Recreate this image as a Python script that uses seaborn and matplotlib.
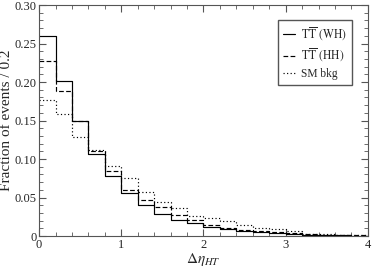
import matplotlib
matplotlib.use('Agg')
import matplotlib.pyplot as plt
from matplotlib.ticker import MultipleLocator
import seaborn as sb
import numpy as np
import pandas as pd

# bin edges of delta eta_HT, width 0.2
edges = np.round(np.arange(0, 4.0001, 0.2), 2)
centres = (edges[:-1] + edges[1:]) / 2

# fraction of events per bin
tt_wh = [0.260, 0.201, 0.150, 0.107, 0.078, 0.0565, 0.0405, 0.028, 0.021, 0.017,
         0.0113, 0.0087, 0.007, 0.0048, 0.004, 0.0027, 0.0015, 0.001, 0.0007, 0.0005]
tt_hh = [0.227, 0.188, 0.149, 0.111, 0.084, 0.060, 0.047, 0.038, 0.027, 0.021,
         0.0143, 0.010, 0.008, 0.0066, 0.0053, 0.0035, 0.002, 0.0015, 0.001, 0.0007]
sm_bkg = [0.177, 0.158, 0.129, 0.112, 0.091, 0.076, 0.0575, 0.0445, 0.036, 0.026,
          0.0235, 0.020, 0.014, 0.0105, 0.0087, 0.007, 0.003, 0.002, 0.0015, 0.001]

labels = [r'$\mathrm{T\overline{T}\;\,(WH)}$', r'$\mathrm{T\overline{T}\;\,(HH)}$', 'SM bkg']
styles = ['-', (0, (4, 2)), (0, (1, 2))]

sb.set_style('ticks')
plt.rcParams['font.family'] = ['Liberation Serif', 'DejaVu Serif']
plt.rcParams['mathtext.fontset'] = 'stix'

f = plt.figure(figsize=(3.72, 2.67), dpi=100)
ax = f.add_axes([0.105, 0.116, 0.884, 0.865])

for vals, lab, ls in zip([tt_wh, tt_hh, sm_bkg], labels, styles):
    df = pd.DataFrame({'x': centres, 'w': vals})
    sb.histplot(data=df, x='x', weights='w', bins=list(edges), element='step',
                fill=False, color='k', linewidth=0.85, linestyle=ls, label=lab, ax=ax)

ax.set_xlim(0, 4)
ax.set_ylim(0, 0.30)
ax.xaxis.set_major_locator(MultipleLocator(1))
ax.xaxis.set_minor_locator(MultipleLocator(0.2))
ax.yaxis.set_minor_locator(MultipleLocator(0.01))
ax.set_yticks(np.arange(0, 0.301, 0.05))
ax.set_yticklabels(['0', '0.05', '0.10', '0.15', '0.20', '0.25', '0.30'])
ax.tick_params(which='both', direction='in', top=True, right=True, labelsize=9,
               color='#555555')
ax.tick_params(which='major', length=5, pad=2)
ax.tick_params(which='minor', length=3)
for s in ax.spines.values():
    s.set_linewidth(0.8)
    s.set_color('#555555')

ax.set_xlabel(r'$\Delta\eta_{HT}$', fontsize=11, labelpad=0)
ax.set_ylabel('Fraction of events / 0.2', fontsize=11, labelpad=1)
ax.legend(loc='upper right', bbox_to_anchor=(0.951, 0.935), fontsize=8.3,
          frameon=True, fancybox=False, edgecolor='#555555', framealpha=1,
          handlelength=1.0, handletextpad=0.5, borderpad=0.45, labelspacing=0.35,
          borderaxespad=0)

f.savefig('out.png', dpi=100)
